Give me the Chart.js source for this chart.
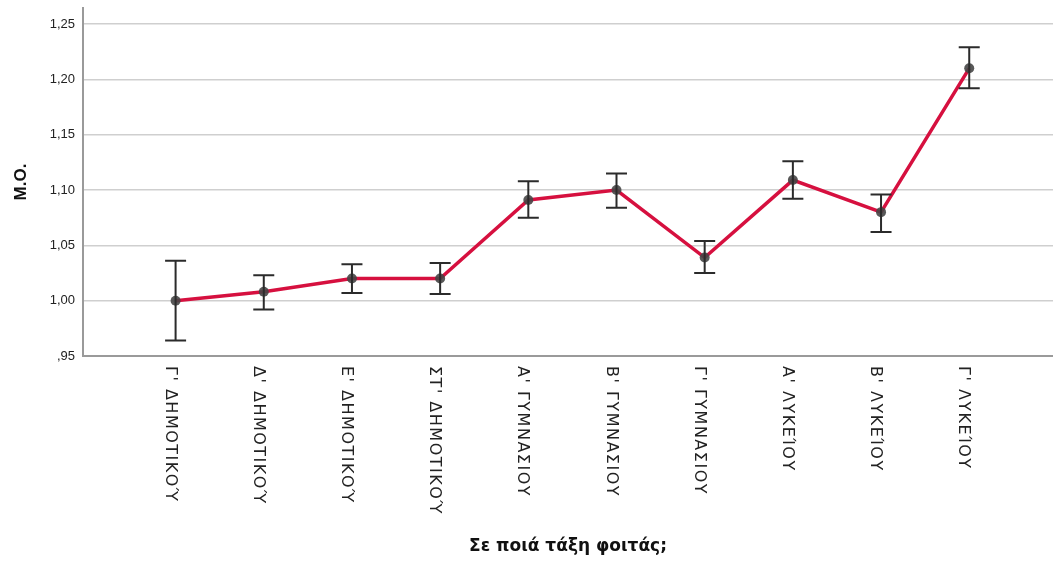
<!DOCTYPE html>
<html>
<head>
<meta charset="utf-8">
<script src="https://cdn.jsdelivr.net/npm/chart.js@4"></script>
<style>
  body { margin: 0; background: #fff; }
  #myChart { display: block; }
</style>
</head>
<body>
<canvas id="myChart" width="1053" height="561"></canvas>
<script>
const classes = ["Γ' ΔΗΜΟΤΙΚΟΎ", "Δ' ΔΗΜΟΤΙΚΟΎ", "Ε' ΔΗΜΟΤΙΚΟΎ", "ΣΤ' ΔΗΜΟΤΙΚΟΎ", "Α' ΓΥΜΝΑΣΙΟΥ",
                 "Β' ΓΥΜΝΑΣΙΟΥ", "Γ' ΓΥΜΝΑΣΙΟΥ", "Α' ΛΥΚΕΊΟΥ", "Β' ΛΥΚΕΊΟΥ", "Γ' ΛΥΚΕΊΟΥ"];
const means = [1.000, 1.008, 1.020, 1.020, 1.091, 1.100, 1.039, 1.109, 1.080, 1.210];
const upper = [1.036, 1.023, 1.033, 1.034, 1.108, 1.115, 1.054, 1.126, 1.096, 1.229];
const lower = [0.964, 0.992, 1.007, 1.006, 1.075, 1.084, 1.025, 1.092, 1.062, 1.192];
const yTicks = [0.95, 1.00, 1.05, 1.10, 1.15, 1.20, 1.25];

const formatTick = (v) => {
    let s = v.toFixed(2).replace(".", ",");
    if (s.startsWith("0")) s = s.slice(1);
    return s;
};

// error bars + rotated category labels
const extrasPlugin = {
    id: "extras",
    afterDatasetsDraw(chart) {
        const ctx = chart.ctx;
        const xs = chart.scales.x;
        const ys = chart.scales.y;
        ctx.save();
        ctx.strokeStyle = "#2b2b2b";
        ctx.lineWidth = 2;
        for (let i = 0; i < means.length; i++) {
            const x = xs.getPixelForValue(i);
            const yTop = ys.getPixelForValue(upper[i]);
            const yBot = ys.getPixelForValue(lower[i]);
            ctx.beginPath();
            ctx.moveTo(x, yTop);
            ctx.lineTo(x, yBot);
            ctx.moveTo(x - 10.5, yTop);
            ctx.lineTo(x + 10.5, yTop);
            ctx.moveTo(x - 10.5, yBot);
            ctx.lineTo(x + 10.5, yBot);
            ctx.stroke();
        }
        ctx.restore();
    },
    afterDraw(chart) {
        const ctx = chart.ctx;
        const xs = chart.scales.x;
        ctx.save();
        ctx.fillStyle = "#222";
        ctx.font = "16px 'DejaVu Sans'";
        ctx.letterSpacing = "1.5px";
        ctx.textAlign = "left";
        ctx.textBaseline = "alphabetic";
        classes.forEach((label, i) => {
            const x = xs.getPixelForValue(i);
            ctx.save();
            ctx.translate(x - 10, xs.top + 10);
            ctx.rotate(Math.PI / 2);
            ctx.fillText(label, 0, 0);
            ctx.restore();
        });
        ctx.restore();
    }
};

const ctx = document.getElementById("myChart");
const myChart = new Chart(ctx, {
    type: "line",
    data: {
        datasets: [{
            data: means.map((m, i) => ({ x: i, y: m })),
            borderColor: "#d6103f",
            borderWidth: 3.5,
            pointRadius: 5,
            pointBackgroundColor: "rgba(70,70,70,0.9)",
            pointBorderWidth: 0,
            tension: 0,
        }]
    },
    options: {
        responsive: false,
        animation: false,
        layout: { autoPadding: false, padding: { top: 8, right: 0, left: 0, bottom: 0 } },
        plugins: { legend: { display: false }, tooltip: { enabled: false } },
        scales: {
            x: {
                type: "linear",
                min: -1.05,
                max: 9.95,
                grid: { display: false },
                border: { display: true, color: "#9a9a9a", width: 2 },
                ticks: { display: false },
                title: {
                    display: true,
                    text: "Σε ποιά τάξη φοιτάς;",
                    font: { family: "'DejaVu Sans'", size: 17, weight: "bold" },
                    color: "#111",
                    padding: { top: 0, bottom: 4 }
                },
                afterFit: (scale) => {
                    scale.height = 205;
                    scale.paddingLeft = 0;
                    scale.paddingRight = 0;
                }
            },
            y: {
                min: 0.95,
                max: 1.2645,
                afterBuildTicks: (scale) => {
                    scale.ticks = yTicks.map(v => ({ value: v }));
                },
                grid: { color: "#cfcfcf", lineWidth: 1.5, drawTicks: false },
                border: { display: true, color: "#9a9a9a", width: 2 },
                ticks: {
                    padding: 8,
                    color: "#222",
                    font: { family: "'Liberation Sans', Arial", size: 13 },
                    callback: (v) => formatTick(v)
                },
                title: {
                    display: true,
                    text: "M.O.",
                    font: { family: "'Liberation Sans', Arial", size: 17, weight: "bold" },
                    color: "#111",
                    padding: { top: 11, bottom: 0 }
                },
                afterFit: (scale) => {
                    scale.width = 83;
                    scale.paddingTop = 0;
                    scale.paddingBottom = 0;
                }
            }
        }
    },
    plugins: [extrasPlugin]
});
</script>
</body>
</html>
